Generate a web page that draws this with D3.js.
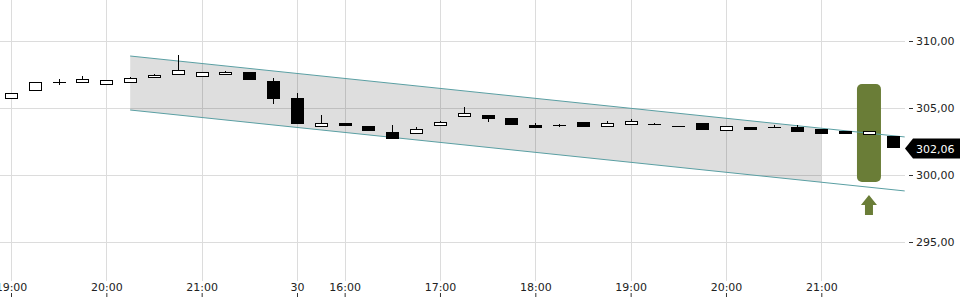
<!DOCTYPE html>
<html>
<head>
<meta charset="utf-8">
<script src="https://cdnjs.cloudflare.com/ajax/libs/d3/7.8.5/d3.min.js"></script>
<style>
body { margin: 0; background: #fff; }
svg { display: block; font-family: "DejaVu Sans", sans-serif; }
</style>
</head>
<body>
<svg id="plain" width="960" height="300"></svg>
<script>
// 15 min candles, index 0 = 19:00 of day 29, index 12 = 15:30 of day 30
var opens  = [305.72,306.32,306.95,306.96,306.81,306.96,307.29,307.51,307.37,307.51,307.66,307.01,305.75,303.68,303.88,303.66,303.21,303.11,303.71,304.38,304.48,304.23,303.75,303.72,303.96,303.68,303.83,303.79,303.63,303.88,303.34,303.58,303.55,303.58,303.46,303.31,303.04,302.91];
var highs  = [306.10,306.92,307.16,307.39,307.07,307.29,307.51,308.96,307.66,307.78,307.66,307.24,306.12,304.48,303.88,303.66,303.73,303.58,304.03,305.07,304.48,304.23,303.88,303.81,303.96,304.03,304.18,303.86,303.63,303.88,303.66,303.58,303.71,303.71,303.46,303.31,303.28,302.91];
var lows   = [305.72,306.32,306.69,306.96,306.74,306.89,307.29,307.44,307.37,307.51,307.19,305.32,303.90,303.68,303.68,303.38,302.78,303.11,303.71,304.38,303.98,303.78,303.56,303.60,303.68,303.68,303.83,303.73,303.63,303.38,303.34,303.46,303.55,303.26,303.16,303.16,303.04,302.06];
var closes = [306.10,306.92,306.95,307.14,307.07,307.22,307.44,307.81,307.66,307.66,307.19,305.77,303.90,303.88,303.75,303.38,302.78,303.41,303.96,304.63,304.23,303.78,303.56,303.70,303.68,303.86,304.03,303.77,303.63,303.46,303.66,303.46,303.60,303.26,303.16,303.16,303.28,302.06];

var tickIndex  = [0, 4, 8, 12, 14, 18, 22, 26, 30, 34];
var tickLabels = ["19:00","20:00","21:00","30","16:00","17:00","18:00","19:00","20:00","21:00"];
var priceTicks = [295, 300, 305, 310];

// trend channel: start index, shaded end index, line end index
var channelIndex = [5, 34, 37.5];
var channelUpper = [308.88, 302.84];
var channelLower = [304.85, 298.81];

// signal marker
var signalIndex = 36;
var signalRange = [299.48, 306.79];

var svg = d3.select("#plain");
var n = closes.length;

var x = d3.scaleLinear().domain([0, n - 1]).range([11, 892.8]);
var y = d3.scaleLinear().domain([295, 310]).range([242, 41]);

var de = d3.formatLocale({decimal: ",", thousands: ".", grouping: [3], currency: ["", ""]});
var fmt = de.format(".2f");

function px(v) { return Math.round(v) + 0.5; }

// grid
var grid = svg.append("g");
grid.selectAll(".vg").data(tickIndex).enter().append("line")
    .attr("x1", function(d) { return px(x(d)); })
    .attr("x2", function(d) { return px(x(d)); })
    .attr("y1", 0).attr("y2", 281)
    .attr("stroke", "#dcdcdc");
grid.selectAll(".hg").data(priceTicks).enter().append("line")
    .attr("x1", 0).attr("x2", 905)
    .attr("y1", function(d) { return px(y(d)); })
    .attr("y2", function(d) { return px(y(d)); })
    .attr("stroke", "#dcdcdc");

// channel
var up = d3.scaleLinear().domain([channelIndex[0], channelIndex[2]]).range(channelUpper);
var lo = d3.scaleLinear().domain([channelIndex[0], channelIndex[2]]).range(channelLower);

svg.append("path")
    .attr("d", "M" + x(channelIndex[0]) + "," + y(up(channelIndex[0])) +
               "L" + x(channelIndex[1]) + "," + y(up(channelIndex[1])) +
               "L" + x(channelIndex[1]) + "," + y(lo(channelIndex[1])) +
               "L" + x(channelIndex[0]) + "," + y(lo(channelIndex[0])) + "Z")
    .attr("fill", "#000")
    .attr("fill-opacity", 0.13);

// signal box
var sx = x(signalIndex);
svg.append("rect")
    .attr("x", sx - 12).attr("width", 24)
    .attr("y", y(signalRange[1])).attr("height", y(signalRange[0]) - y(signalRange[1]))
    .attr("rx", 5).attr("ry", 5)
    .attr("fill", "#6a7d37");
svg.append("path")
    .attr("d", "M" + (sx - 8) + ",205 L" + sx + ",195 L" + (sx + 8) + ",205 L" + (sx + 4) + ",205 L" +
               (sx + 4) + ",215 L" + (sx - 4) + ",215 L" + (sx - 4) + ",205 Z")
    .attr("fill", "#6a7d37");

[[channelUpper, up], [channelLower, lo]].forEach(function(c) {
    svg.append("line")
        .attr("x1", x(channelIndex[0])).attr("y1", y(c[1](channelIndex[0])))
        .attr("x2", x(channelIndex[2])).attr("y2", y(c[1](channelIndex[2])))
        .attr("stroke", "#5a9fa3")
        .attr("stroke-width", 1);
});

// candles
var idx = d3.range(n);
var candles = svg.append("g").selectAll("g").data(idx).enter().append("g");

candles.append("line")
    .attr("x1", function(i) { return px(x(i)); })
    .attr("x2", function(i) { return px(x(i)); })
    .attr("y1", function(i) { return Math.round(y(highs[i])); })
    .attr("y2", function(i) { return Math.round(y(lows[i])); })
    .attr("stroke", "#000");

candles.each(function(i) {
    var g = d3.select(this);
    var top = Math.round(y(Math.max(opens[i], closes[i])));
    var bot = Math.round(y(Math.min(opens[i], closes[i])));
    var cx = Math.round(x(i));
    if (bot - top < 1) {
        g.append("line")
            .attr("x1", cx - 6).attr("x2", cx + 7)
            .attr("y1", top + 0.5).attr("y2", top + 0.5)
            .attr("stroke", "#000");
    } else {
        g.append("rect")
            .attr("x", cx - 6 + 0.5).attr("width", 12)
            .attr("y", top + 0.5).attr("height", bot - top)
            .attr("fill", closes[i] >= opens[i] ? "#fff" : "#000")
            .attr("stroke", "#000");
    }
});

// price axis
var yAxis = svg.append("g")
    .attr("transform", "translate(909,0)")
    .call(d3.axisRight(y).tickValues(priceTicks).tickSize(4).tickPadding(3).tickFormat(fmt));
yAxis.select(".domain").remove();
yAxis.selectAll("line").attr("stroke", "#333");
yAxis.selectAll("text").attr("font-size", 11).attr("fill", "#222").attr("font-family", "DejaVu Sans");

// time axis
var xAxis = svg.append("g")
    .attr("transform", "translate(0,297)")
    .call(d3.axisTop(x).tickValues(tickIndex).tickSize(4).tickPadding(2)
        .tickFormat(function(d, i) { return tickLabels[i]; }));
xAxis.select(".domain").remove();
xAxis.selectAll("line").attr("stroke", "#333");
xAxis.selectAll("text").attr("font-size", 11).attr("fill", "#222").attr("font-family", "DejaVu Sans");

// last price tag
var last = closes[n - 1];
var ly = Math.round(y(last)) + 1.5;
svg.append("path")
    .attr("d", "M905," + ly + " L913," + (ly - 10) + " L960," + (ly - 10) + " L960," + (ly + 10) + " L913," + (ly + 10) + " Z")
    .attr("fill", "#000");
svg.append("text")
    .attr("x", 916).attr("y", ly + 4)
    .attr("font-size", 11).attr("fill", "#fff")
    .text(fmt(last));
</script>
</body>
</html>
